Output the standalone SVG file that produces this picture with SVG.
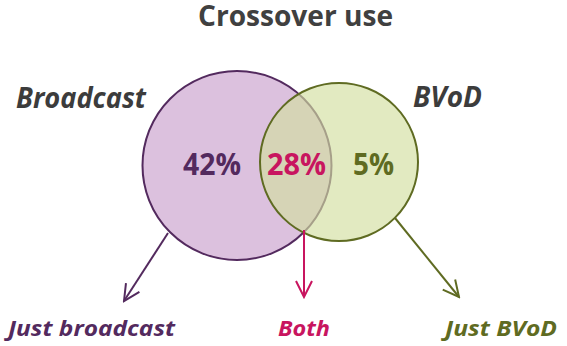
<svg xmlns="http://www.w3.org/2000/svg" width="567" height="346" viewBox="0 0 567 346">
<defs>
<style>
text{font-family:"Open Sans","Noto Sans",sans-serif;font-weight:bold}
.title{font-size:29px;fill:#404040}
.set{font-size:28px;font-style:italic;fill:#3c3c3c}
.pct{font-size:30px}
.lbl{font-size:22px;font-style:italic}
.purple{fill:#532a5e}
.mag{fill:#c8155f}
.olive{fill:#5f6b22}
.conn{fill:none;stroke-width:2}
</style>
<marker id="ahP" viewBox="0 0 20 20" refX="18" refY="10" markerWidth="20" markerHeight="20" markerUnits="userSpaceOnUse" orient="auto"><path d="M2,2 L18,10 L2,18" fill="none" stroke="#532a5e" stroke-width="2"/></marker>
<marker id="ahM" viewBox="0 0 20 20" refX="18" refY="10" markerWidth="20" markerHeight="20" markerUnits="userSpaceOnUse" orient="auto"><path d="M2,2 L18,10 L2,18" fill="none" stroke="#c8155f" stroke-width="2"/></marker>
<marker id="ahO" viewBox="0 0 20 20" refX="18" refY="10" markerWidth="20" markerHeight="20" markerUnits="userSpaceOnUse" orient="auto"><path d="M2,2 L18,10 L2,18" fill="none" stroke="#5f6b22" stroke-width="2"/></marker>
</defs>
<rect width="567" height="346" fill="#ffffff"/>
<text class="title" x="198" y="26" textLength="195" lengthAdjust="spacingAndGlyphs">Crossover use</text>
<g id="broadcast">
<circle cx="237" cy="165.5" r="94.5" fill="#dcc1de" stroke="#532a5e" stroke-width="2"/>
<text class="set" x="16" y="108" textLength="130" lengthAdjust="spacingAndGlyphs">Broadcast</text>
<text class="pct purple" x="183" y="175" textLength="58" lengthAdjust="spacingAndGlyphs">42%</text>
</g>
<g id="bvod">
<circle cx="339" cy="162" r="79" fill="rgb(210,223,160)" fill-opacity="0.65"/>
<circle cx="339" cy="162" r="79" fill="none" stroke="#5f6b22" stroke-width="2"/>
<text class="set" x="413" y="107" textLength="69" lengthAdjust="spacingAndGlyphs">BVoD</text>
<text class="pct olive" x="353" y="175" textLength="41" lengthAdjust="spacingAndGlyphs">5%</text>
</g>
<g id="both">
<text class="pct mag" x="267" y="175" textLength="59" lengthAdjust="spacingAndGlyphs">28%</text>
</g>
<g id="connectors">
<line class="conn" x1="168" y1="233" x2="124" y2="301" stroke="#532a5e" marker-end="url(#ahP)"/>
<line class="conn" x1="304" y1="230" x2="304" y2="297" stroke="#c8155f" marker-end="url(#ahM)"/>
<line class="conn" x1="395" y1="218" x2="459" y2="297" stroke="#5f6b22" marker-end="url(#ahO)"/>
</g>
<g id="just-broadcast"><text class="lbl purple" x="8" y="336" textLength="167" lengthAdjust="spacingAndGlyphs">Just broadcast</text></g>
<g id="both-label"><text class="lbl mag" x="278" y="336" textLength="52" lengthAdjust="spacingAndGlyphs">Both</text></g>
<g id="just-bvod"><text class="lbl olive" x="445" y="336" textLength="112" lengthAdjust="spacingAndGlyphs">Just BVoD</text></g>
</svg>
